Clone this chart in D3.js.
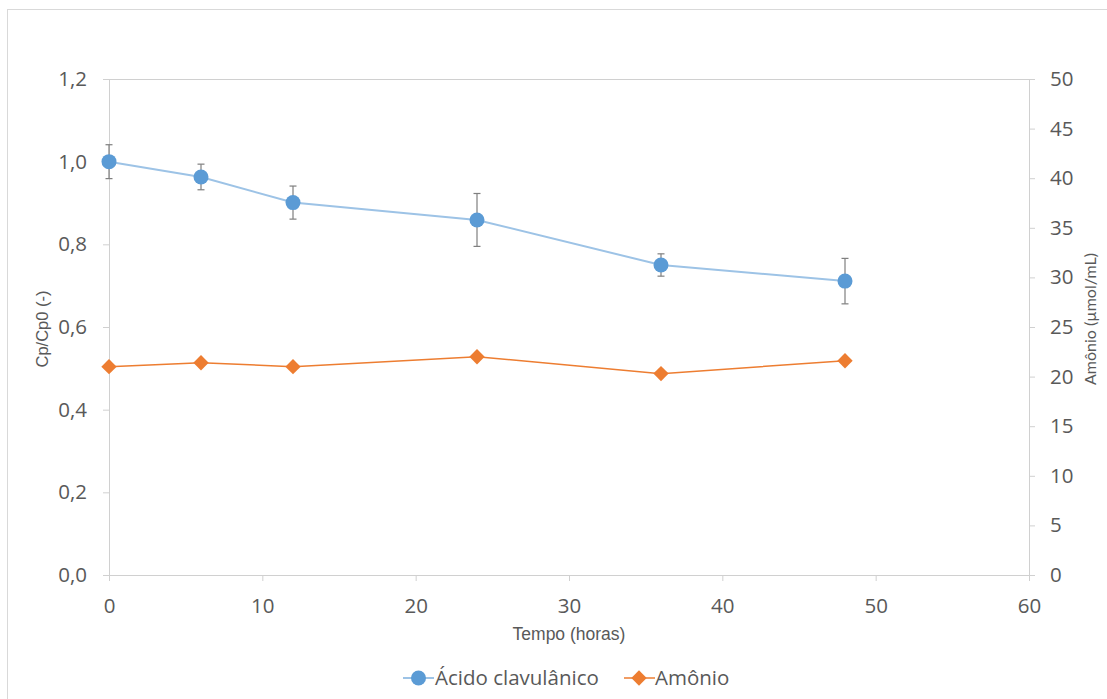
<!DOCTYPE html>
<html>
<head>
<meta charset="utf-8">
<script src="https://cdn.jsdelivr.net/npm/d3@7"></script>
<style>
  body { margin: 0; background: #fff; }
  svg { display: block; }
</style>
</head>
<body>
<div id="chart"></div>
<script>
// Data
const tempo = [0, 6, 12, 24, 36, 48]
const acido = [1.0, 0.963, 0.901, 0.859, 0.75, 0.711]
const acidoErr = [0.041, 0.031, 0.04, 0.064, 0.027, 0.055]
const amonio = [21.0, 21.4, 21.0, 22.0, 20.3, 21.6]
const yLeftTicks = [0, 0.2, 0.4, 0.6, 0.8, 1.0, 1.2]
const yRightTicks = [0, 5, 10, 15, 20, 25, 30, 35, 40, 45, 50]
const xTicks = [0, 10, 20, 30, 40, 50, 60]

const W = 1107, H = 699
const margin = { top: 79, right: 78, bottom: 124, left: 109 }
const width = W - margin.left - margin.right,
  height = H - margin.top - margin.bottom

const svg = d3.select('#chart').append('svg')
  .attr('width', W).attr('height', H)

// outer chart border
svg.append('rect')
  .attr('x', 7.5).attr('y', 9.5)
  .attr('width', W).attr('height', H)
  .attr('fill', 'none').attr('stroke', '#d9d9d9')

const g = svg.append('g')
  .attr('transform', `translate(${margin.left},${margin.top})`)

const x = d3.scaleLinear().domain([0, 60]).range([0, width])
const yL = d3.scaleLinear().domain([0, 1.2]).range([height, 0])
const yR = d3.scaleLinear().domain([0, 50]).range([height, 0])

const fmtComma = d => d3.format('.1f')(d).replace('.', ',')
const axisColor = '#d0d0d0'
const labelColor = '#595959'
const tickFont = '"Open Sans", sans-serif'

function styleAxis(sel) {
  sel.select('.domain').attr('stroke', axisColor)
  sel.selectAll('.tick line').attr('stroke', axisColor)
  sel.selectAll('.tick text')
    .attr('fill', labelColor)
    .style('font-family', tickFont)
    .style('font-size', '20.5px')
}

// top border line
g.append('line')
  .attr('x1', -6).attr('x2', width + 6)
  .attr('y1', 0.5).attr('y2', 0.5)
  .attr('stroke', axisColor)

// Axes
g.append('g')
  .attr('transform', `translate(0,${height})`)
  .call(d3.axisBottom(x).tickValues(xTicks).tickSize(6).tickSizeOuter(0).tickPadding(17))
  .call(styleAxis)

g.append('g')
  .call(d3.axisLeft(yL).tickValues(yLeftTicks).tickFormat(fmtComma).tickSize(6).tickSizeOuter(0).tickPadding(16))
  .call(styleAxis)

g.append('g')
  .attr('transform', `translate(${width},0)`)
  .call(d3.axisRight(yR).tickValues(yRightTicks).tickSize(6).tickSizeOuter(0).tickPadding(15))
  .call(styleAxis)

// extend bottom axis line to the left tick
g.append('line')
  .attr('x1', -6).attr('x2', width + 6)
  .attr('y1', height + 0.5).attr('y2', height + 0.5)
  .attr('stroke', axisColor)

// Axis titles
svg.append('text')
  .attr('x', margin.left + x(30)).attr('y', 640)
  .attr('text-anchor', 'middle')
  .attr('fill', labelColor)
  .style('font-family', '"Liberation Sans", Arial, sans-serif')
  .style('font-size', '17.5px')
  .text('Tempo (horas)')

svg.append('text')
  .attr('transform', `translate(48,329) rotate(-90)`)
  .attr('text-anchor', 'middle')
  .attr('fill', labelColor)
  .style('font-family', '"Liberation Sans", Arial, sans-serif')
  .style('font-size', '16.5px')
  .text('Cp/Cp0 (-)')

svg.append('text')
  .attr('transform', `translate(1096,319) rotate(-90)`)
  .attr('text-anchor', 'middle')
  .attr('fill', labelColor)
  .style('font-family', 'Lato, Carlito, sans-serif')
  .style('font-size', '16px')
  .text('Amônio (µmol/mL)')

const blue = '#5b9bd5', blueLine = '#9dc3e6', orange = '#ed7d31'
const acidoData = tempo.map((t, i) => ({ t, v: acido[i], e: acidoErr[i] }))
const amonioData = tempo.map((t, i) => ({ t, v: amonio[i] }))

// Amônio series
g.append('path')
  .datum(amonioData)
  .attr('fill', 'none').attr('stroke', orange).attr('stroke-width', 1.5)
  .attr('d', d3.line().x(d => x(d.t)).y(d => yR(d.v)))

g.selectAll('.dia')
  .data(amonioData)
  .join('path')
  .attr('class', 'dia')
  .attr('transform', d => `translate(${x(d.t)},${yR(d.v)})`)
  .attr('d', d3.symbol(d3.symbolDiamond2, 150))
  .attr('fill', orange)

// Ácido series
g.append('path')
  .datum(acidoData)
  .attr('fill', 'none').attr('stroke', blueLine).attr('stroke-width', 2)
  .attr('d', d3.line().x(d => x(d.t)).y(d => yL(d.v)))

const err = g.selectAll('.err').data(acidoData).join('g').attr('class', 'err')
  .attr('stroke', '#7f7f7f').attr('stroke-width', 1.2)
err.append('line')
  .attr('x1', d => x(d.t)).attr('x2', d => x(d.t))
  .attr('y1', d => yL(d.v + d.e)).attr('y2', d => yL(d.v - d.e))
err.append('line')
  .attr('x1', d => x(d.t) - 3.5).attr('x2', d => x(d.t) + 3.5)
  .attr('y1', d => yL(d.v + d.e)).attr('y2', d => yL(d.v + d.e))
err.append('line')
  .attr('x1', d => x(d.t) - 3.5).attr('x2', d => x(d.t) + 3.5)
  .attr('y1', d => yL(d.v - d.e)).attr('y2', d => yL(d.v - d.e))

g.selectAll('.dot')
  .data(acidoData)
  .join('circle')
  .attr('class', 'dot')
  .attr('cx', d => x(d.t)).attr('cy', d => yL(d.v))
  .attr('r', 7.5)
  .attr('fill', blue)

// Legend
const leg = svg.append('g').attr('transform', 'translate(0,678)')
leg.append('line').attr('x1', 403).attr('x2', 434).attr('y1', 0).attr('y2', 0)
  .attr('stroke', blueLine).attr('stroke-width', 2)
leg.append('circle').attr('cx', 418.5).attr('cy', 0).attr('r', 7.5).attr('fill', blue)
leg.append('text').attr('x', 435).attr('y', 7)
  .attr('fill', labelColor)
  .style('font-family', tickFont).style('font-size', '20.5px')
  .text('Ácido clavulânico')

leg.append('line').attr('x1', 624).attr('x2', 655).attr('y1', 0).attr('y2', 0)
  .attr('stroke', orange).attr('stroke-width', 1.5)
leg.append('path').attr('transform', 'translate(639,0)')
  .attr('d', d3.symbol(d3.symbolDiamond2, 150)).attr('fill', orange)
leg.append('text').attr('x', 655).attr('y', 7)
  .attr('fill', labelColor)
  .style('font-family', tickFont).style('font-size', '20.5px')
  .text('Amônio')
</script>
</body>
</html>
